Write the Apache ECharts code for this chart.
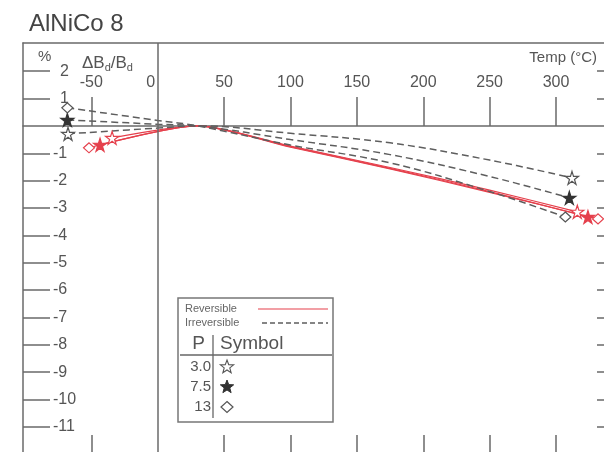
<!DOCTYPE html>
<html>
<head>
<meta charset="utf-8">
<script src="https://cdn.jsdelivr.net/npm/echarts@6/dist/echarts.min.js"></script>
<style>
html,body{margin:0;padding:0;background:#fff;}
#chart{width:604px;height:452px;}
</style>
</head>
<body>
<div id="chart"></div>
<script>
// ---- data ----
var xTickValues = [-50, 50, 100, 150, 200, 250, 300];
var xLabelValues = [-50, 0, 50, 100, 150, 200, 250, 300];
var yTickValues = [-11, -10, -9, -8, -7, -6, -5, -4, -3, -2, -1, 1, 2];

// Irreversible (dashed) curves, [temp °C, ΔBd/Bd %]
var irrP30 = [[-67.5, -0.29], [0, -0.08], [30, 0], [100, -0.27], [175, -0.62], [250, -1.25], [312, -1.90]];
var irrP75 = [[-68, 0.22], [0, 0.06], [30, 0], [100, -0.50], [175, -1.05], [250, -1.85], [310, -2.63]];
var irrP13 = [[-68, 0.66], [0, 0.20], [30, 0], [100, -0.70], [175, -1.35], [250, -2.40], [307, -3.33]];

// Reversible (red) curves
var revP30 = [[-34.3, -0.44], [30, 0], [100, -0.74], [175, -1.52], [250, -2.35], [316, -3.14]];
var revP75 = [[-43.4, -0.69], [30, 0], [100, -0.76], [175, -1.55], [250, -2.40], [324, -3.33]];
var revP13 = [[-51.7, -0.80], [30, 0], [100, -0.78], [175, -1.57], [250, -2.43], [331.6, -3.40]];

var legendRows = ['3.0', '7.5', '13'];

// ---- styles ----
var GRAY = '#5e5e5e';
var AX = '#6a6a6a';
var RED = '#e5404c';
var FONT = 'Liberation Sans, Arial, sans-serif';
var STAR = 'path://M50,2 L61.2,36.6 L97.6,36.6 L68.2,58 L79.4,92.6 L50,71.2 L20.6,92.6 L31.8,58 L2.4,36.6 L38.8,36.6 Z';

function ends(arr) { return [arr[0], arr[arr.length - 1]]; }

function lineSeries(data, color, dashed) {
  return {
    type: 'line', data: data, symbol: 'none', smooth: dashed ? 0.4 : 0.25,
    lineStyle: { color: color, width: dashed ? 1.5 : 1.2, type: dashed ? [7, 4] : 'solid' },
    z: dashed ? 3 : 2, silent: true, animation: false
  };
}
function markerSeries(data, symbol, size, fill, stroke) {
  return {
    type: 'scatter', data: data, symbol: symbol, symbolSize: size,
    itemStyle: { color: fill, borderColor: stroke, borderWidth: 1.2, opacity: 1 },
    z: 5, silent: true, animation: false
  };
}

function starPoints(cx, cy, r) {
  var pts = [];
  for (var i = 0; i < 10; i++) {
    var rr = i % 2 === 0 ? r : r * 0.42;
    var a = -Math.PI / 2 + i * Math.PI / 5;
    pts.push([cx + rr * Math.cos(a), cy + rr * Math.sin(a)]);
  }
  return pts;
}

var xMin = -101.4, xMax = 336.1, yMin = -11.92, yMax = 3.03;

var chart = echarts.init(document.getElementById('chart'), null, { renderer: 'canvas' });

var series = [
  lineSeries(revP30, RED, false),
  lineSeries(revP75, RED, false),
  lineSeries(revP13, RED, false),
  lineSeries(irrP30, GRAY, true),
  lineSeries(irrP75, GRAY, true),
  lineSeries(irrP13, GRAY, true),
  markerSeries(ends(irrP30), STAR, 13, '#fff', '#555'),
  markerSeries(ends(irrP75), STAR, 13, '#333', '#333'),
  markerSeries(ends(irrP13), 'diamond', [11, 10], '#fff', '#555'),
  markerSeries([revP30[0], revP30[revP30.length - 1]], STAR, 13, '#fff', RED),
  markerSeries([revP75[0], revP75[revP75.length - 1]], STAR, 13, RED, RED),
  markerSeries([revP13[0], revP13[revP13.length - 1]], 'diamond', [11, 10], '#fff', RED)
];
series[0].markLine = {
  silent: true, symbol: 'none', animation: false,
  label: { show: false },
  lineStyle: { color: AX, width: 1.5, type: 'solid' },
  data: [{ xAxis: 0 }]
};

var legendGraphics = [
  { type: 'rect', shape: { x: 178, y: 298, width: 155, height: 124 },
    style: { fill: '#fff', stroke: '#777', lineWidth: 1.5 }, z: 10 },
  { type: 'text', x: 185, y: 309, style: { text: 'Reversible', font: '11px ' + FONT, fill: '#666', verticalAlign: 'middle' }, z: 11 },
  { type: 'line', shape: { x1: 258, y1: 309, x2: 328, y2: 309 }, style: { stroke: RED, lineWidth: 1.2 }, z: 11 },
  { type: 'text', x: 185, y: 323, style: { text: 'Irreversible', font: '11px ' + FONT, fill: '#666', verticalAlign: 'middle' }, z: 11 },
  { type: 'line', shape: { x1: 262, y1: 323, x2: 328, y2: 323 }, style: { stroke: GRAY, lineWidth: 1.3, lineDash: [5, 3] }, z: 11 },
  { type: 'text', x: 205, y: 344, style: { text: 'P', font: '19px ' + FONT, fill: '#555', align: 'right', verticalAlign: 'middle' }, z: 11 },
  { type: 'text', x: 220, y: 344, style: { text: 'Symbol', font: '19px ' + FONT, fill: '#555', verticalAlign: 'middle' }, z: 11 },
  { type: 'line', shape: { x1: 213, y1: 335, x2: 213, y2: 418 }, style: { stroke: '#666', lineWidth: 1.3 }, z: 11 },
  { type: 'line', shape: { x1: 180, y1: 355, x2: 332, y2: 355 }, style: { stroke: '#666', lineWidth: 1.3 }, z: 11 }
];
var rowY = [367, 387, 407];
legendRows.forEach(function (t, i) {
  legendGraphics.push({ type: 'text', x: 211, y: rowY[i], style: { text: t, font: '15px ' + FONT, fill: '#555', align: 'right', verticalAlign: 'middle' }, z: 11 });
});
legendGraphics.push({ type: 'polygon', shape: { points: starPoints(227, rowY[0], 7) }, style: { fill: '#fff', stroke: '#555', lineWidth: 1.1 }, z: 11 });
legendGraphics.push({ type: 'polygon', shape: { points: starPoints(227, rowY[1], 7) }, style: { fill: '#333', stroke: '#333', lineWidth: 1 }, z: 11 });
legendGraphics.push({ type: 'polygon', shape: { points: [[227, rowY[2] - 5.5], [233, rowY[2]], [227, rowY[2] + 5.5], [221, rowY[2]]] }, style: { fill: '#fff', stroke: '#555', lineWidth: 1.2 }, z: 11 });

var textGraphics = [
  { type: 'text', x: 29, y: 24, style: { text: 'AlNiCo 8', font: '24px ' + FONT, fill: '#444', verticalAlign: 'middle' } },
  { type: 'text', x: 38, y: 57, style: { text: '%', font: '15px ' + FONT, fill: '#555', verticalAlign: 'middle' } },
  { type: 'text', x: 82, y: 63, style: {
      text: '{n|ΔB}{s|d}{n|/B}{s|d}', fill: '#555', verticalAlign: 'middle',
      rich: { n: { fontSize: 17, fontFamily: FONT, fill: '#555' }, s: { fontSize: 11, fontFamily: FONT, fill: '#555', padding: [9, 0, 0, 0] } }
    } },
  { type: 'text', x: 597, y: 58, style: { text: 'Temp (°C)', font: '15px ' + FONT, fill: '#555', align: 'right', verticalAlign: 'middle' } }
];

chart.setOption({
  animation: false,
  backgroundColor: '#fff',
  grid: { left: 23, right: 0, top: 43, bottom: 0, containLabel: false, outerBoundsMode: 'none' },
  xAxis: [
    { type: 'value', position: 'bottom', min: xMin, max: xMax,
      axisLine: { show: true, onZero: true, lineStyle: { color: AX, width: 1.5 } },
      axisTick: { show: true, inside: true, length: 29, customValues: xTickValues, lineStyle: { color: AX, width: 1.5 } },
      axisLabel: { show: false },
      splitLine: { show: false } },
    { type: 'value', position: 'bottom', min: xMin, max: xMax,
      axisLine: { show: false, onZero: false },
      axisTick: { show: true, inside: true, length: 17, customValues: xTickValues, lineStyle: { color: AX, width: 1.5 } },
      axisLabel: { show: false }, splitLine: { show: false } },
    { type: 'value', position: 'top', min: xMin, max: xMax,
      axisLine: { show: true, onZero: false, lineStyle: { color: AX, width: 1.5 } },
      axisTick: { show: false },
      axisLabel: { show: true, inside: true, margin: 32, customValues: xLabelValues, color: '#555', fontSize: 16, fontFamily: FONT,
        formatter: function (v) { return v === 0 ? '{z|0}' : String(v); },
        rich: { z: { fontSize: 16, fontFamily: FONT, color: '#555', padding: [0, 14, 0, 0] } } },
      splitLine: { show: false } }
  ],
  yAxis: [
    { type: 'value', position: 'left', min: yMin, max: yMax,
      axisLine: { show: true, onZero: false, lineStyle: { color: AX, width: 1.5 } },
      axisTick: { show: true, inside: true, length: 27, customValues: yTickValues, lineStyle: { color: AX, width: 1.5 } },
      axisLabel: { show: true, inside: true, margin: 30, align: 'left', customValues: yTickValues, color: '#555', fontSize: 16, fontFamily: FONT,
        formatter: function (v) { return v > 0 ? '{p|' + v + '}' : String(v); },
        rich: { p: { fontSize: 16, fontFamily: FONT, color: '#555', padding: [0, 0, 0, 7] } } },
      splitLine: { show: false } },
    { type: 'value', position: 'right', min: yMin, max: yMax,
      axisLine: { show: false, onZero: false },
      axisTick: { show: true, inside: true, length: 7, customValues: yTickValues, lineStyle: { color: AX, width: 1.5 } },
      axisLabel: { show: false }, splitLine: { show: false } }
  ],
  graphic: textGraphics.concat(legendGraphics),
  series: series
});
</script>
</body>
</html>
